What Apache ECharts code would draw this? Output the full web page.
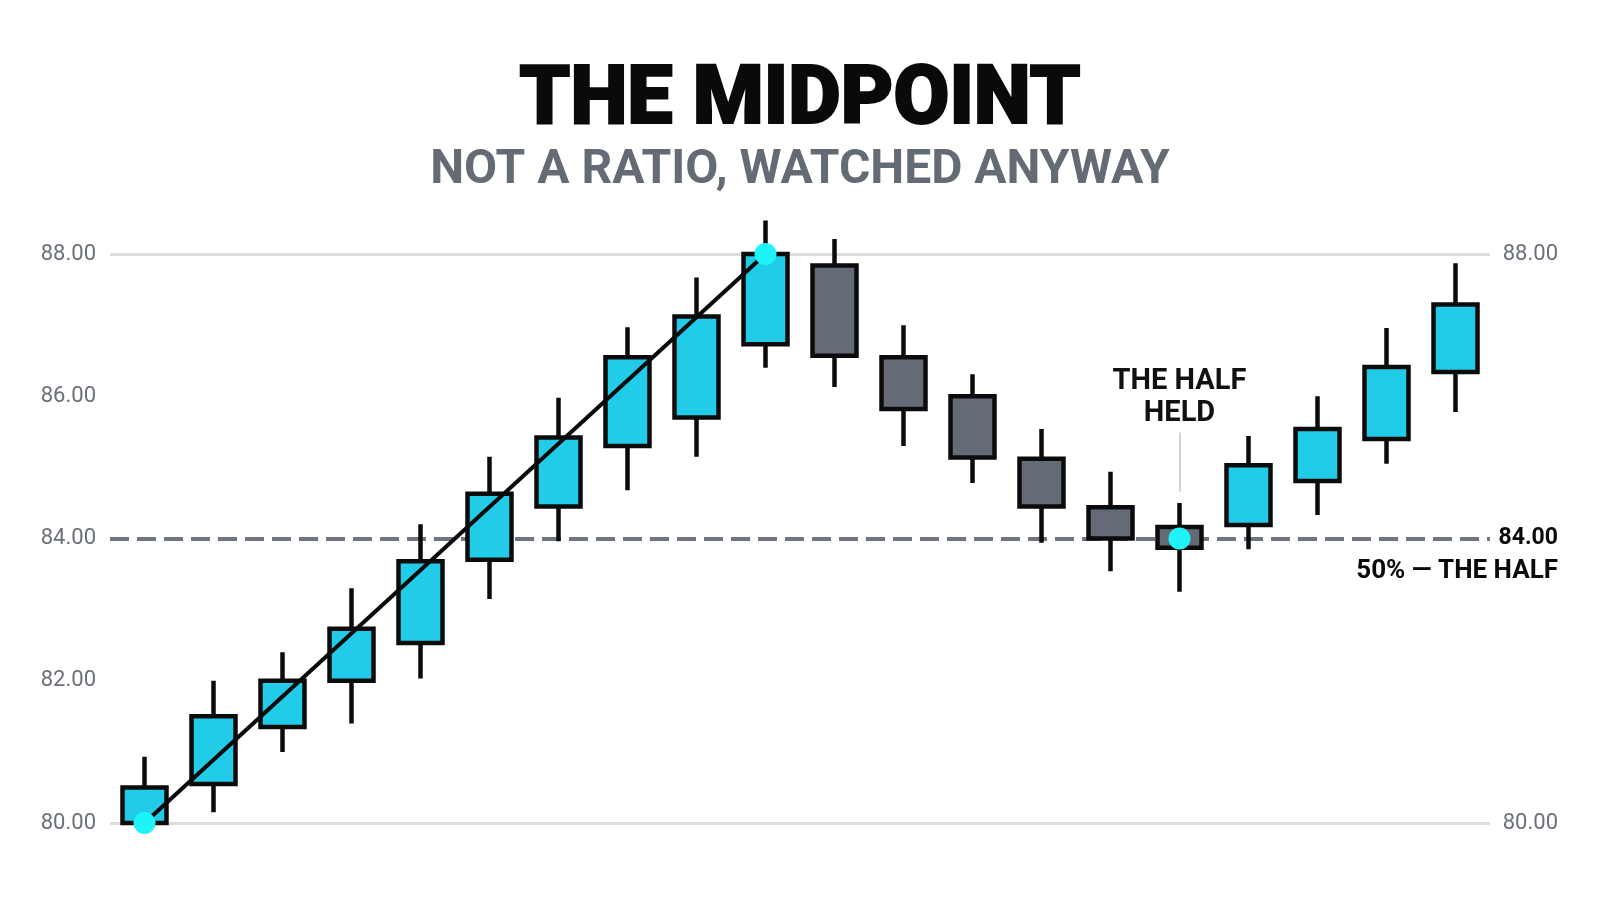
<!DOCTYPE html>
<html>
<head>
<meta charset="utf-8">
<title>The Midpoint</title>
<script src="https://cdn.jsdelivr.net/npm/echarts@6/dist/echarts.min.js"></script>
<style>
  html, body { margin: 0; padding: 0; background: #fff; }
  #main { width: 1600px; height: 914px; }
</style>
</head>
<body>
<div id="main"></div>
<script>
// candles
var categories = ['1', '2', '3', '4', '5', '6', '7', '8', '9', '10',
  '11', '12', '13', '14', '15', '16', '17', '18', '19', '20'];
var opens  = [80.00, 80.55, 81.35, 82.00, 82.53, 83.70, 84.45, 85.30, 85.70, 86.73,
  87.84, 86.55, 86.00, 85.12, 84.44, 84.16, 84.19, 84.81, 85.40, 86.34];
var closes = [80.50, 81.50, 82.00, 82.73, 83.68, 84.63, 85.42, 86.55, 87.12, 88.00,
  86.57, 85.82, 85.14, 84.45, 84.00, 83.87, 85.03, 85.54, 86.41, 87.29];
var lows   = [80.00, 80.15, 81.00, 81.40, 82.03, 83.15, 83.96, 84.68, 85.15, 86.40,
  86.13, 85.30, 84.78, 83.94, 83.54, 83.25, 83.85, 84.33, 85.05, 85.78];
var highs  = [80.93, 82.00, 82.40, 83.30, 84.20, 85.15, 85.98, 86.97, 87.67, 88.47,
  88.21, 87.00, 86.31, 85.54, 84.94, 84.50, 85.44, 86.00, 86.96, 87.87];

// swing low -> swing high, and the midpoint test
var swingIdx = [0, 9];
var swingVal = [80, 88];
var dotIdx = [0, 9, 15];
var dotVal = [80, 88, 84];
var midValue = 84;
var calloutIdx = 15;
var calloutVal = 85.98;
var leaderVal = [85.49, 84.66];

var yTicks = ['80.00', '82.00', '84.00', '86.00', '88.00'];

var candleData = categories.map(function (c, i) {
  return [opens[i], closes[i], lows[i], highs[i]];
});
var swingData = swingIdx.map(function (x, i) { return [x, swingVal[i]]; });
var dotData = dotIdx.map(function (x, i) { return [x, dotVal[i]]; });

var myChart = echarts.init(document.getElementById('main'));

var option = {
  backgroundColor: '#ffffff',
  animation: false,
  title: [{
    text: 'THE MIDPOINT',
    left: 'center',
    top: 57,
    textStyle: {
      fontFamily: 'Roboto', fontSize: 81, fontWeight: 900, color: '#0a0a0a',
      textBorderColor: '#0a0a0a', textBorderWidth: 2
    }
  }, {
    text: 'NOT A RATIO, WATCHED ANYWAY',
    left: 'center',
    top: 142,
    textStyle: { fontFamily: 'Roboto', fontSize: 48, fontWeight: 'bold', color: '#646b75' }
  }],
  grid: {
    left: 110,
    right: 110,
    top: 254,
    bottom: 91
  },
  xAxis: {
    type: 'category',
    data: categories,
    boundaryGap: true,
    axisLine: { show: false },
    axisTick: { show: false },
    axisLabel: { show: false },
    splitLine: { show: false }
  },
  yAxis: [{
    type: 'value',
    min: 80,
    max: 88,
    interval: 2,
    axisLine: { show: false },
    axisTick: { show: false },
    splitLine: { show: false },
    axisLabel: {
      margin: 14,
      fontFamily: 'Roboto',
      fontSize: 22,
      color: '#6b7079',
      formatter: function (v) { return yTicks[(v - 80) / 2]; }
    }
  }, {
    type: 'value',
    position: 'right',
    min: 80,
    max: 88,
    interval: 8,
    axisLine: { show: false },
    axisTick: { show: false },
    splitLine: { show: true, lineStyle: { color: '#dcdcdc', width: 3 } },
    axisLabel: {
      margin: 68,
      align: 'right',
      fontFamily: 'Roboto',
      fontSize: 22,
      color: '#6b7079',
      formatter: function (v) { return v.toFixed(2); }
    }
  }],
  series: [{
    name: 'price',
    type: 'candlestick',
    data: candleData,
    barWidth: 44,
    clip: false,
    z: 2,
    itemStyle: {
      color: '#22cce8',
      color0: '#646b76',
      borderColor: '#0b0b0b',
      borderColor0: '#0b0b0b',
      borderWidth: 4.5
    },
    markLine: {
      z: 1,
      silent: true,
      symbol: 'none',
      lineStyle: { color: '#70757f', width: 4, type: [19, 8] },
      data: [{
        yAxis: midValue,
        label: {
          position: 'end',
          align: 'right',
          distance: 68,
          formatter: '84.00',
          fontFamily: 'Roboto',
          fontSize: 23,
          fontWeight: 'bold',
          color: '#0a0a0a'
        }
      }, {
        yAxis: midValue,
        label: {
          position: 'insideEndBottom',
          distance: [-68, 20],
          formatter: '50% — THE HALF',
          fontFamily: 'Roboto',
          fontSize: 26,
          fontWeight: 'bold',
          color: '#0a0a0a'
        }
      }]
    },
    markPoint: {
      silent: true,
      symbol: 'circle',
      symbolSize: 1,
      itemStyle: { color: 'rgba(0,0,0,0)' },
      label: {
        show: true,
        position: 'inside',
        formatter: 'THE HALF\nHELD',
        fontFamily: 'Roboto',
        fontSize: 29,
        fontWeight: 'bold',
        lineHeight: 32,
        color: '#111111'
      },
      data: [{ coord: [calloutIdx, calloutVal] }]
    }
  }, {
    // leader from callout down to the held candle
    name: 'leader',
    type: 'line',
    data: [],
    silent: true,
    markLine: {
      silent: true,
      symbol: 'none',
      label: { show: false },
      lineStyle: { color: '#d2d2d2', width: 2, type: 'solid' },
      data: [[{ coord: [calloutIdx, leaderVal[0]] }, { coord: [calloutIdx, leaderVal[1]] }]]
    }
  }, {
    name: 'swing',
    type: 'line',
    data: swingData,
    symbol: 'none',
    z: 3,
    lineStyle: { color: '#0a0a0a', width: 4 }
  }, {
    name: 'dots',
    type: 'scatter',
    data: dotData,
    symbolSize: 22,
    z: 4,
    itemStyle: { color: '#1ef3f7', opacity: 1 }
  }]
};

myChart.setOption(option);
</script>
</body>
</html>
